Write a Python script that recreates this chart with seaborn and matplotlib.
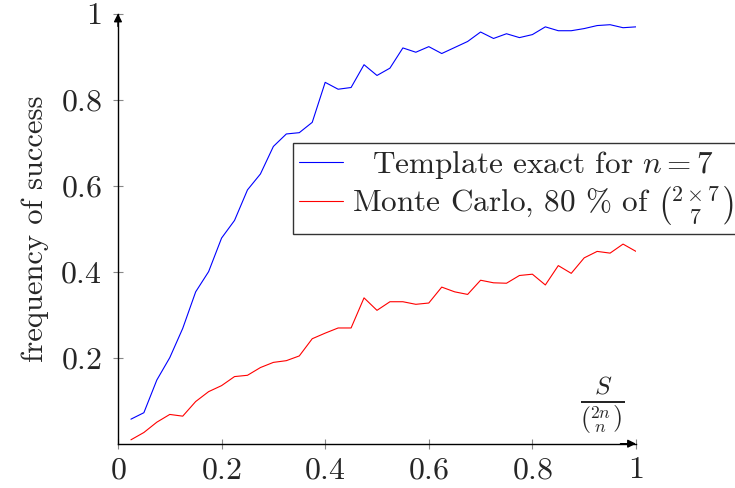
import numpy as np
import pandas as pd
import matplotlib
matplotlib.use("Agg")
import matplotlib.pyplot as plt
import seaborn as sns

# ---- data ----
s_ratio = [0.025, 0.05, 0.075, 0.1, 0.125, 0.15, 0.175, 0.2, 0.225, 0.25,
           0.275, 0.3, 0.325, 0.35, 0.375, 0.4, 0.425, 0.45, 0.475, 0.5,
           0.525, 0.55, 0.575, 0.6, 0.625, 0.65, 0.675, 0.7, 0.725, 0.75,
           0.775, 0.8, 0.825, 0.85, 0.875, 0.9, 0.925, 0.95, 0.975, 1.0]
template_exact = [0.057, 0.072, 0.148, 0.200, 0.268, 0.353, 0.400, 0.478, 0.519, 0.590,
                  0.627, 0.691, 0.720, 0.723, 0.747, 0.840, 0.824, 0.828, 0.881, 0.856,
                  0.873, 0.920, 0.910, 0.923, 0.907, 0.921, 0.935, 0.957, 0.942, 0.953,
                  0.944, 0.951, 0.969, 0.960, 0.960, 0.965, 0.972, 0.974, 0.967, 0.969]
monte_carlo = [0.009, 0.026, 0.050, 0.068, 0.064, 0.098, 0.121, 0.135, 0.156, 0.159,
               0.177, 0.189, 0.193, 0.204, 0.244, 0.257, 0.269, 0.269, 0.339, 0.310,
               0.330, 0.330, 0.324, 0.327, 0.364, 0.353, 0.347, 0.380, 0.374, 0.373,
               0.391, 0.394, 0.369, 0.414, 0.396, 0.432, 0.447, 0.443, 0.464, 0.447]
series_labels = [r"Template exact for $n = 7$",
                 r"Monte Carlo, 80 % of $\binom{2\times7}{7}$"]
x_ticks = [0, 0.2, 0.4, 0.6, 0.8, 1]
x_tick_labels = ["$0$", "$0.2$", "$0.4$", "$0.6$", "$0.8$", "$1$"]
y_ticks = [0.2, 0.4, 0.6, 0.8, 1]
y_tick_labels = ["$0.2$", "$0.4$", "$0.6$", "$0.8$", "$1$"]

df = pd.DataFrame({
    "x": s_ratio * 2,
    "y": template_exact + monte_carlo,
    "series": [series_labels[0]] * len(s_ratio) + [series_labels[1]] * len(s_ratio),
})

sns.set_theme(style="white")
plt.rcParams["mathtext.fontset"] = "cm"
plt.rcParams["font.family"] = ["cmr10", "DejaVu Serif"]
plt.rcParams["axes.unicode_minus"] = False

fig = plt.figure(figsize=(7.35, 4.88), dpi=100)
ax = fig.add_axes([0.1605, 0.0908, 0.7048, 0.8815])

sns.lineplot(data=df, x="x", y="y", hue="series",
             palette={series_labels[0]: "#0000ff", series_labels[1]: "#ff0000"},
             linewidth=0.8, ax=ax, legend=True)

ax.set_xlim(0, 1)
ax.set_ylim(0, 1)
ax.set_xticks(x_ticks)
ax.set_xticklabels(x_tick_labels, fontsize=23)
ax.set_yticks(y_ticks)
ax.set_yticklabels(y_tick_labels, fontsize=23)
ax.tick_params(axis="both", direction="inout", length=7, width=0.8,
               color="#888888", bottom=True, left=True)
ax.tick_params(axis="x", pad=6)
ax.tick_params(axis="y", pad=8)
ax.set_xlabel("")
ax.set_ylabel("frequency of success", fontsize=22, labelpad=8)

for side in ["top", "right"]:
    ax.spines[side].set_visible(False)
for side in ["left", "bottom"]:
    ax.spines[side].set_color("black")
    ax.spines[side].set_linewidth(1.0)

# axis arrows
ax.annotate("", xy=(1.0, 0), xytext=(0.97, 0), xycoords="axes fraction",
            arrowprops=dict(arrowstyle="-|>", color="black", lw=1.0,
                            mutation_scale=12, shrinkA=0, shrinkB=0), annotation_clip=False)
ax.annotate("", xy=(0, 1.0), xytext=(0, 0.97), xycoords="axes fraction",
            arrowprops=dict(arrowstyle="-|>", color="black", lw=1.0,
                            mutation_scale=12, shrinkA=0, shrinkB=0), annotation_clip=False)

ax.text(0.935, 0.088, r"$\frac{S}{\binom{2n}{n}}$", fontsize=26, ha="center", va="center",
        transform=ax.transAxes)

leg = ax.legend(loc="upper left", bbox_to_anchor=(0.398, 0.707),
                bbox_transform=fig.transFigure, fontsize=22.5, frameon=True,
                fancybox=False, handlelength=1.4, handletextpad=0.3,
                borderpad=0.2, labelspacing=0.1, borderaxespad=0)
leg.get_frame().set_edgecolor("black")
leg.get_frame().set_linewidth(1.0)
leg.set_title(None)

# center the legend texts relative to each other (pgfplots style)
fig.canvas.draw()
renderer = fig.canvas.get_renderer()
texts = leg.get_texts()
widths = [t.get_window_extent(renderer).width for t in texts]
wmax = max(widths)
for t, w in zip(texts, widths):
    t.set_x((wmax - w) / 2.0)

fig.savefig("out.png", dpi=100)
